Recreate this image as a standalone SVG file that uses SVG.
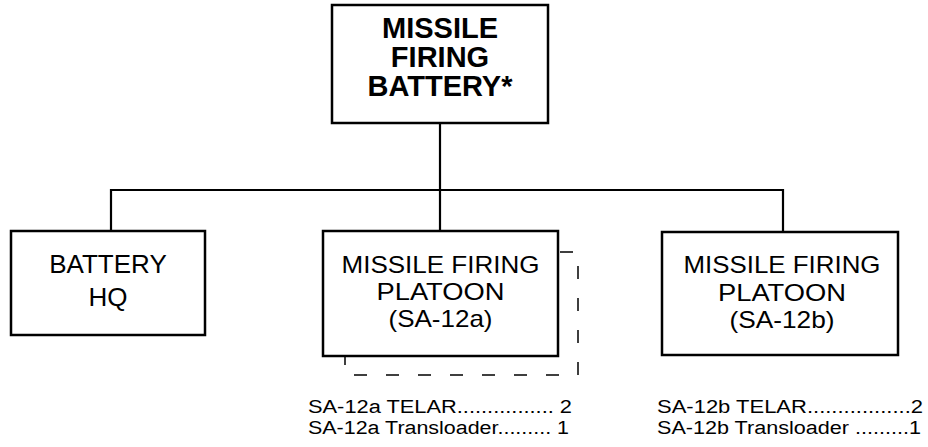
<svg xmlns="http://www.w3.org/2000/svg" width="928" height="447" viewBox="0 0 928 447">
<style>
.box{fill:#fff;stroke:#000;stroke-width:2.5}
.line{fill:none;stroke:#000;stroke-width:2.2}
.dash{fill:none;stroke:#000;stroke-width:1.5;stroke-dasharray:13 19}
.t{font-family:"Liberation Sans",Arial,sans-serif;font-size:26px;fill:#000;text-anchor:middle}
.s{font-family:"Liberation Sans",Arial,sans-serif;font-size:24px;fill:#000;text-anchor:middle}
.tb{font-family:"Liberation Sans",Arial,sans-serif;font-size:29px;font-weight:bold;fill:#000;text-anchor:middle}
.l{font-family:"Liberation Sans",Arial,sans-serif;font-size:18px;fill:#000}
</style>
<rect width="928" height="447" fill="#fff"/>
<g id="connectors">
<path class="line" d="M440 123 V231"/>
<path class="line" d="M111 231 V190 H783 V232"/>
<path class="dash" d="M560 252 H578 V375 H345 V357"/>
</g>
<g id="battery">
<rect class="box" x="332" y="5" width="216" height="118"/>
<text class="tb" x="440" y="38">MISSILE</text>
<text class="tb" x="440" y="67">FIRING</text>
<text class="tb" x="440" y="96">BATTERY*</text>
</g>
<g id="hq">
<rect class="box" x="11" y="231" width="194" height="104"/>
<text class="t" x="108" y="273">BATTERY</text>
<text class="t" x="108" y="306">HQ</text>
</g>
<g id="platoon-a">
<rect class="box" x="323" y="231" width="235" height="125"/>
<text class="s" x="440.5" y="273" textLength="198" lengthAdjust="spacingAndGlyphs">MISSILE FIRING</text>
<text class="s" x="440.5" y="300" textLength="128" lengthAdjust="spacingAndGlyphs">PLATOON</text>
<text class="s" x="440.5" y="327" textLength="104" lengthAdjust="spacingAndGlyphs">(SA-12a)</text>
</g>
<g id="platoon-b">
<rect class="box" x="662" y="232" width="236" height="123"/>
<text class="s" x="782" y="273" textLength="197" lengthAdjust="spacingAndGlyphs">MISSILE FIRING</text>
<text class="s" x="782" y="301" textLength="128" lengthAdjust="spacingAndGlyphs">PLATOON</text>
<text class="s" x="782" y="328" textLength="105" lengthAdjust="spacingAndGlyphs">(SA-12b)</text>
</g>
<g id="list-a">
<text class="l" x="308" y="413" textLength="264" lengthAdjust="spacingAndGlyphs">SA-12a TELAR................ 2</text>
<text class="l" x="308" y="434" textLength="261" lengthAdjust="spacingAndGlyphs">SA-12a Transloader......... 1</text>
</g>
<g id="list-b">
<text class="l" x="657" y="413" textLength="266" lengthAdjust="spacingAndGlyphs">SA-12b TELAR.................2</text>
<text class="l" x="657" y="434" textLength="264" lengthAdjust="spacingAndGlyphs">SA-12b Transloader .........1</text>
</g>
</svg>
